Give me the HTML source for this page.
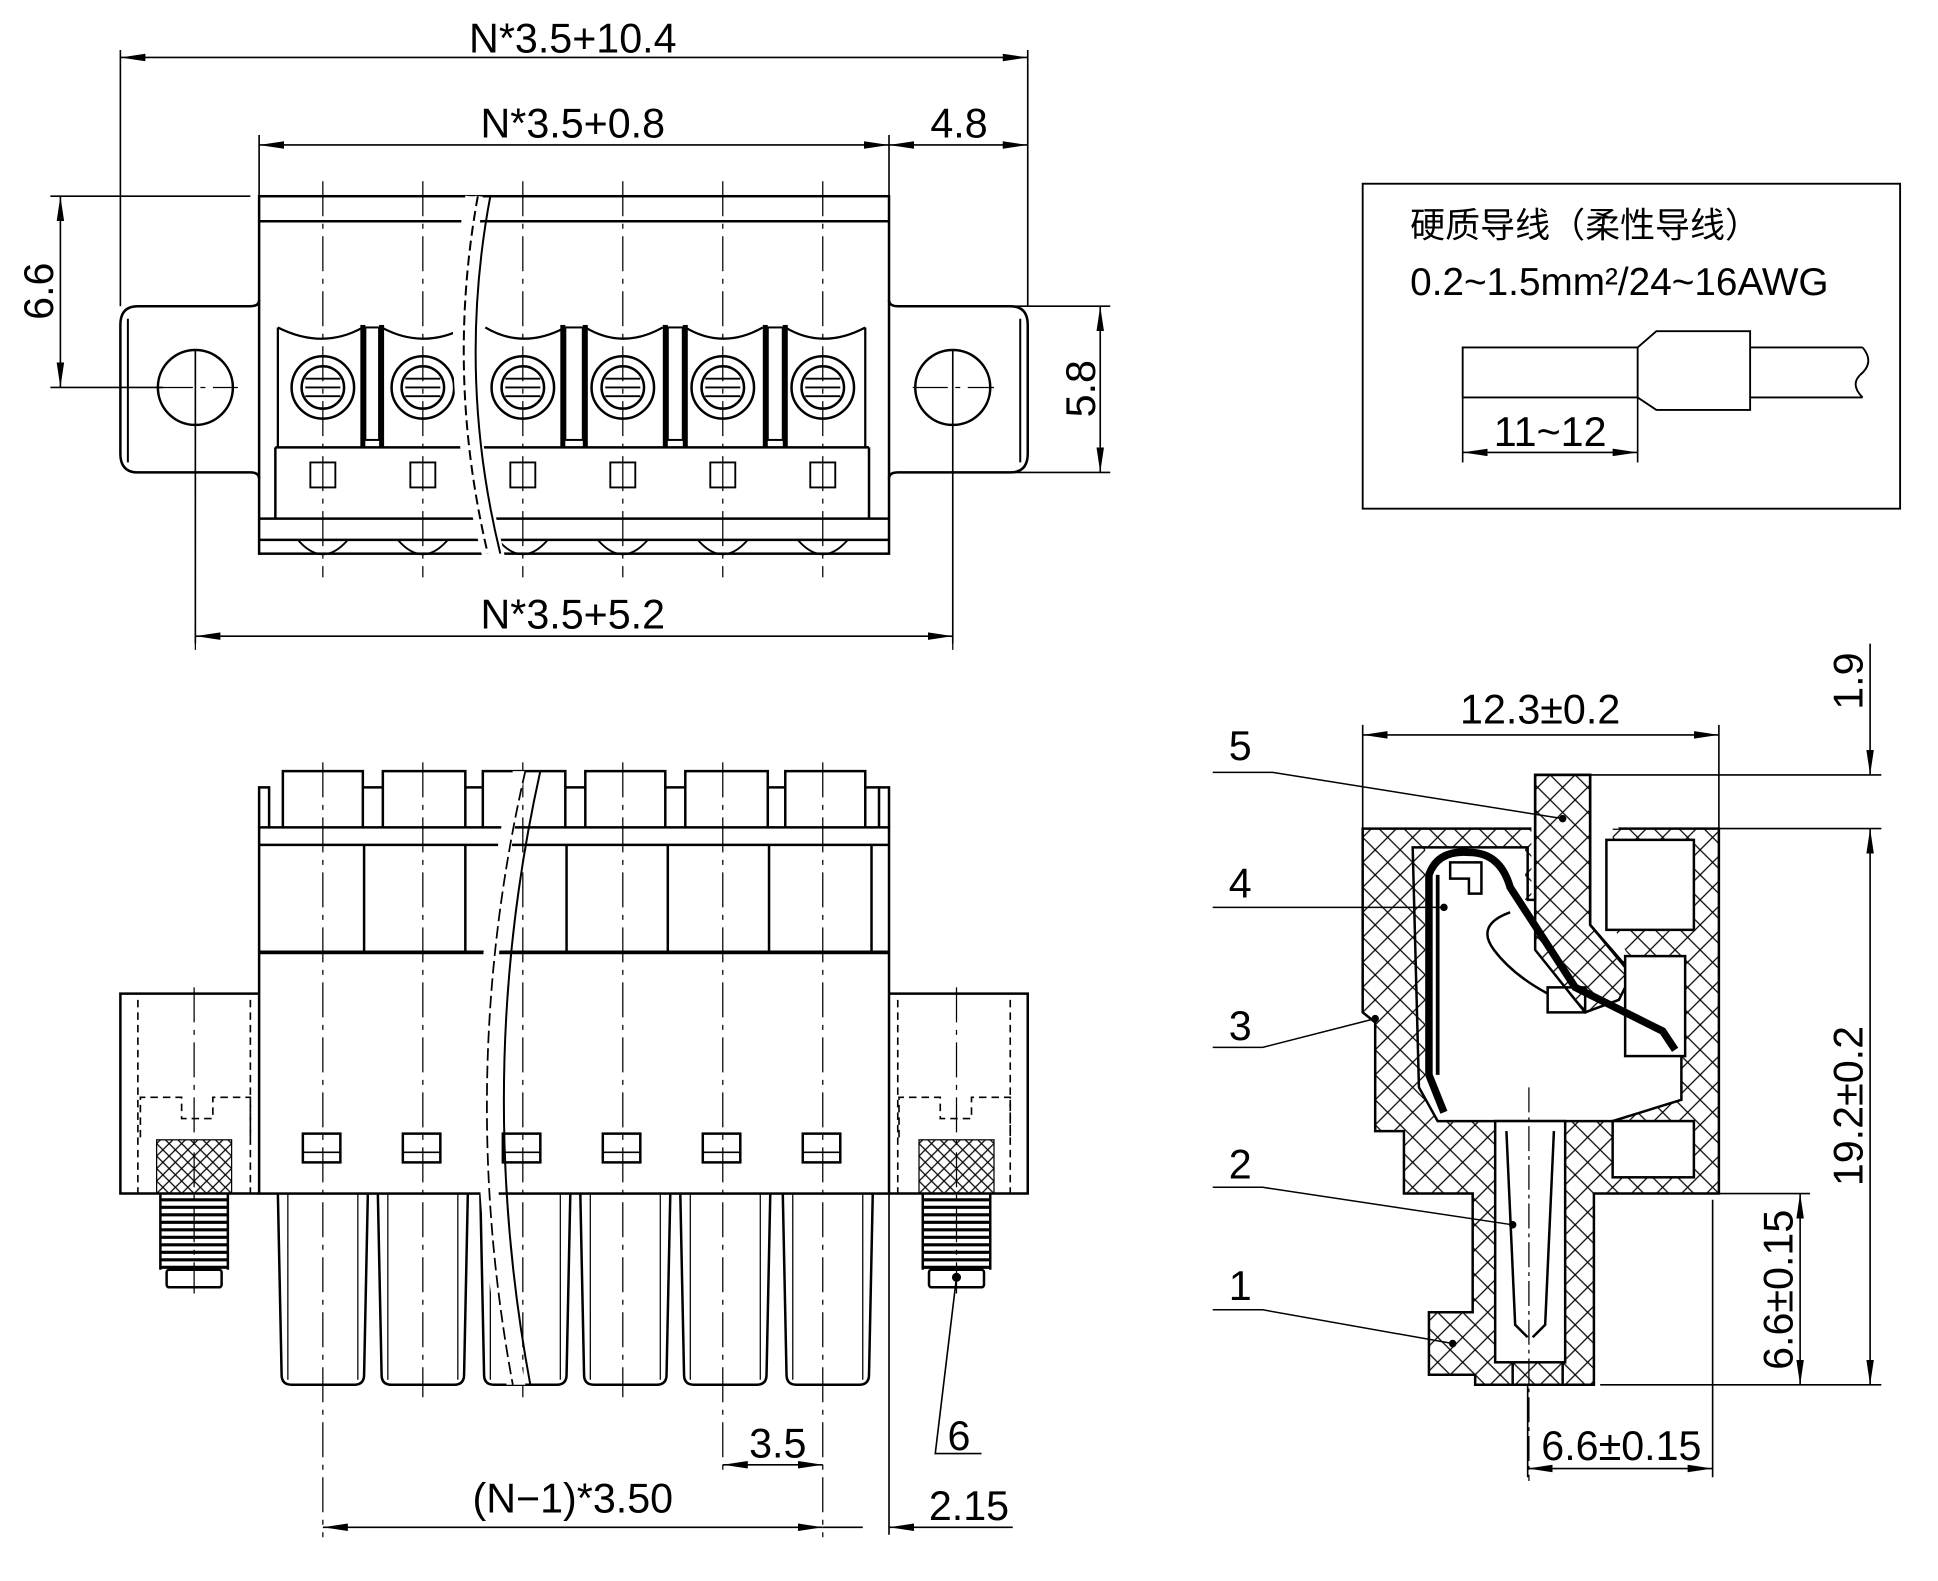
<!DOCTYPE html>
<html><head><meta charset="utf-8"><style>html,body{margin:0;padding:0;background:#fff}svg{display:block}</style></head>
<body>
<svg width="1938" height="1581" viewBox="0 0 1550 1265" xmlns="http://www.w3.org/2000/svg" font-family="Liberation Sans, sans-serif">
<defs>
<marker id="a" viewBox="0 0 20 8" refX="20" refY="4" markerWidth="20" markerHeight="8" markerUnits="userSpaceOnUse" orient="auto-start-reverse"><path d="M0,1 L20,4 L0,7 Z" fill="#000"/></marker>
<pattern id="h" width="20" height="20" patternUnits="userSpaceOnUse"><path d="M0,0L20,20M20,0L0,20" stroke="#000" stroke-width="1"/></pattern>
<pattern id="h2" width="10" height="10" patternUnits="userSpaceOnUse"><path d="M0,0L10,10M10,0L0,10" stroke="#000" stroke-width="1"/></pattern>
</defs>
<g stroke="#000" fill="none" stroke-width="1.3">
<!-- TOP VIEW dims -->
<line x1="96" y1="40" x2="96" y2="245"/><line x1="822" y1="40" x2="822" y2="245"/>
<line x1="96" y1="46" x2="822" y2="46" marker-start="url(#a)" marker-end="url(#a)"/>
<line x1="207" y1="108" x2="207" y2="157"/><line x1="711" y1="108" x2="711" y2="157"/>
<line x1="207" y1="116" x2="711" y2="116" marker-start="url(#a)" marker-end="url(#a)"/>
<line x1="711" y1="116" x2="822" y2="116" marker-start="url(#a)" marker-end="url(#a)"/>
<line x1="40" y1="157" x2="200" y2="157"/><line x1="40" y1="310" x2="130" y2="310"/>
<line x1="48" y1="157" x2="48" y2="310" marker-start="url(#a)" marker-end="url(#a)"/>
<line x1="790" y1="245" x2="888" y2="245"/><line x1="790" y1="378" x2="888" y2="378"/>
<line x1="880" y1="245" x2="880" y2="378" marker-start="url(#a)" marker-end="url(#a)"/>
<line x1="156" y1="280" x2="156" y2="515"/><line x1="762" y1="280" x2="762" y2="515"/>
<line x1="156" y1="509" x2="762" y2="509" marker-start="url(#a)" marker-end="url(#a)"/>
<!-- top body -->
<g stroke-width="2">
<rect x="207" y="157" width="504" height="286"/>
<line x1="207" y1="177" x2="711" y2="177"/>
<path d="M207,240 Q207,245 200,245 L110,245 Q96,245 96,260 L96,363 Q96,378 110,378 L200,378 Q207,378 207,383"/>
<path d="M711,240 Q711,245 718,245 L808,245 Q822,245 822,260 L822,363 Q822,378 808,378 L718,378 Q711,378 711,383"/>
<circle cx="156" cy="310" r="30"/><circle cx="762" cy="310" r="30"/>
<line x1="220" y1="358" x2="695" y2="358"/>
<line x1="207" y1="415" x2="711" y2="415"/>
<line x1="220" y1="358" x2="220" y2="415"/><line x1="695" y1="358" x2="695" y2="415"/>
<line x1="207" y1="432" x2="711" y2="432"/>
</g>
<g stroke-width="1.6">
<line x1="102" y1="255" x2="102" y2="370"/><line x1="816" y1="255" x2="816" y2="370"/>
</g>
<!-- terminals top -->
<g stroke-width="1.8">
<path d="M222,262 Q258,280 290,262 M305,262 Q338,280 372,262 M388,262 Q418,280 452,262 M468,262 Q498,280 530,262 M548,262 Q578,280 610,262 M628,262 Q658,280 692,262"/>
<line x1="222" y1="262" x2="222" y2="358"/><line x1="692" y1="262" x2="692" y2="358"/>
</g>
<g fill="#000" stroke="none">
<rect x="288" y="260" width="4" height="98"/><rect x="303" y="260" width="4" height="98"/>
<rect x="448" y="260" width="4" height="98"/><rect x="466" y="260" width="4" height="98"/>
<rect x="530" y="260" width="4" height="98"/><rect x="546" y="260" width="4" height="98"/>
<rect x="610" y="260" width="4" height="98"/><rect x="626" y="260" width="4" height="98"/>
</g>
<g stroke-width="1.6">
<rect x="292" y="262" width="11" height="90"/><rect x="452" y="262" width="14" height="90"/><rect x="534" y="262" width="12" height="90"/><rect x="614" y="262" width="12" height="90"/>
</g>
<g stroke-width="2">
<circle cx="258" cy="310" r="25"/><circle cx="258" cy="310" r="17"/>
<circle cx="338" cy="310" r="25"/><circle cx="338" cy="310" r="17"/>
<circle cx="418" cy="310" r="25"/><circle cx="418" cy="310" r="17"/>
<circle cx="498" cy="310" r="25"/><circle cx="498" cy="310" r="17"/>
<circle cx="578" cy="310" r="25"/><circle cx="578" cy="310" r="17"/>
<circle cx="658" cy="310" r="25"/><circle cx="658" cy="310" r="17"/>
</g>
<g stroke-width="1.5">
<path d="M244,303h28M244,310h28M244,317h28M324,303h28M324,310h28M324,317h28M404,303h28M404,310h28M404,317h28M484,303h28M484,310h28M484,317h28M564,303h28M564,310h28M564,317h28M644,303h28M644,310h28M644,317h28"/>
<path d="M248,370h20v20h-20zM328,370h20v20h-20zM408,370h20v20h-20zM488,370h20v20h-20zM568,370h20v20h-20zM648,370h20v20h-20z"/>
<path d="M238,432 Q258,455 278,432M318,432 Q338,455 358,432M398,432 Q418,455 438,432M478,432 Q498,455 518,432M558,432 Q578,455 598,432M638,432 Q658,455 678,432"/>
</g>
<g stroke-dasharray="28,6,4,6" stroke-width="1">
<path d="M258,145V462M338,145V462M418,145V462M498,145V462M578,145V462M658,145V462"/>
<path d="M156,280V520M762,280V520M126,310H190M730,310H795"/>
</g>
<!-- break top -->
<path d="M383,157 Q365,300 400,443 L388,443 Q350,300 375,157" fill="#fff" stroke="#fff" stroke-width="6"/>
<path d="M392,157 Q365,300 400,443" stroke-width="1.6"/>
<path d="M382,157 Q356,300 390,443" stroke-width="1.6" stroke-dasharray="8,4"/>

<!-- FRONT VIEW -->
<g stroke-width="2">
<path d="M207,662 V630 H215 V662 M703,662 V630 H711 V662"/>
<path d="M226,662V617H290V662M306,662V617H372V662M386,662V617H452V662M468,662V617H532V662M548,662V617H614V662M628,662V617H692V662"/>
<path d="M290,630h16M372,630h14M452,630h16M532,630h16M614,630h14M692,630h11"/>
<rect x="207" y="662" width="504" height="293"/>
<line x1="207" y1="676" x2="711" y2="676"/>
<line x1="207" y1="762" x2="711" y2="762" stroke-width="3"/>
<path d="M291,676V762M372,676V762M453,676V762M534,676V762M615,676V762M697,676V762"/>
<path d="M207,795H96V955H207M711,795H822V955H711"/>
<path d="M242,907h30v23h-30zM322,907h30v23h-30zM402,907h30v23h-30zM482,907h30v23h-30zM562,907h30v23h-30zM642,907h30v23h-30z"/>
<path d="M242,922h30M322,922h30M402,922h30M482,922h30M562,922h30M642,922h30" stroke-width="1.3"/>
<path d="M222,955 L225,1100 Q225,1108 233,1108 L283,1108 Q291,1108 291,1100 L294,955"/>
<path d="M302,955 L305,1100 Q305,1108 313,1108 L363,1108 Q371,1108 371,1100 L374,955"/>
<path d="M384,955 L387,1100 Q387,1108 395,1108 L445,1108 Q453,1108 453,1100 L456,955"/>
<path d="M464,955 L467,1100 Q467,1108 475,1108 L525,1108 Q533,1108 533,1100 L536,955"/>
<path d="M544,955 L547,1100 Q547,1108 555,1108 L605,1108 Q613,1108 613,1100 L616,955"/>
<path d="M626,955 L629,1100 Q629,1108 637,1108 L687,1108 Q695,1108 695,1100 L698,955"/>
</g>
<path d="M230,955V1104M286,955V1104M310,955V1104M366,955V1104M392,955V1104M448,955V1104M472,955V1104M528,955V1104M552,955V1104M608,955V1104M634,955V1104M690,955V1104" stroke-width="1"/>
<!-- screws -->
<g stroke-dasharray="6,4" stroke-width="1.3">
<path d="M110,800V955M200,800V955M718,800V955M808,800V955"/>
<path d="M112,910V878H145V895H170V878H200V910M719,910V878H752V895H777V878H808V910"/>
</g>
<rect x="125" y="912" width="60" height="43" fill="url(#h2)" stroke-width="1"/>
<rect x="735" y="912" width="60" height="43" fill="url(#h2)" stroke-width="1"/>
<g stroke-width="2.5">
<path d="M128,960H182M128,966H182M128,972H182M128,978H182M128,984H182M128,990H182M128,996H182M128,1002H182M128,1008H182M128,1014H182"/>
<path d="M738,960H792M738,966H792M738,972H792M738,978H792M738,984H792M738,990H792M738,996H792M738,1002H792M738,1008H792M738,1014H792"/>
<path d="M128,955V1016M182,955V1016M738,955V1016M792,955V1016" stroke-width="2"/>
<rect x="133" y="1016" width="44" height="14" rx="2" stroke-width="2"/>
<rect x="743" y="1016" width="44" height="14" rx="2" stroke-width="2"/>
</g>
<g stroke-dasharray="28,6,4,6" stroke-width="1">
<path d="M258,610V1230M338,610V1118M418,610V1118M498,610V1118M578,610V1180M658,610V1230M155,790V1035M765,790V1035"/>
</g>
<!-- break front -->
<path d="M420,617 Q370,860 420,1108 L405,1108 Q355,860 410,617Z" fill="#fff" stroke="none"/>
<path d="M432,617 Q378,860 424,1108" stroke-width="1.6"/>
<path d="M420,617 Q364,860 410,1108" stroke-width="1.4" stroke-dasharray="10,4"/>
<!-- front dims -->
<line x1="711" y1="955" x2="711" y2="1228"/>
<line x1="578" y1="1172" x2="658" y2="1172" marker-start="url(#a)" marker-end="url(#a)"/>
<line x1="258" y1="1222" x2="658" y2="1222" marker-start="url(#a)" marker-end="url(#a)"/>
<line x1="711" y1="1222" x2="810" y2="1222" marker-start="url(#a)"/>
<line x1="658" y1="1222" x2="690" y2="1222"/>
<path d="M765,1022 L748,1163 H785"/>
<circle cx="765" cy="1022" r="3" fill="#000"/>

<!-- BOX -->
<rect x="1090" y="147" width="430" height="260" stroke-width="1.5"/>
<g stroke-width="1.5">
<rect x="1170" y="278" width="140" height="40"/>
<path d="M1310,278 L1325,265 H1400 V328 H1325 L1310,318"/>
<path d="M1400,278 H1490 M1400,318 H1490"/>
<path d="M1490,278 Q1500,290 1488,300 Q1480,308 1490,318"/>
</g>
<line x1="1170" y1="318" x2="1170" y2="370"/><line x1="1310" y1="318" x2="1310" y2="370"/>
<line x1="1170" y1="362" x2="1310" y2="362" marker-start="url(#a)" marker-end="url(#a)"/>

<!-- SIDE VIEW -->
<g stroke-width="2">
<path d="M1090,663 L1375,663 L1375,955 L1275,955 L1275,1108 L1180,1108 L1180,1100 L1143,1100 L1143,1050 L1178,1050 L1178,955 L1123,955 L1123,905 L1100,905 L1100,818 L1090,810 Z" fill="url(#h)"/>
<path d="M1225,620 L1270,620 L1295,663 L1290,663 L1290,740 L1305,770 L1345,770 L1345,880 L1290,897 L1150,897 L1140,880 L1140,678 L1220,678 L1220,720 L1225,720 Z" fill="#fff" stroke="none"/>
<path d="M1130,678 L1222,678 L1222,720 L1228,720 L1228,620 L1272,620 L1272,740 L1298,770 L1345,770 L1345,880 L1290,897 L1150,897 L1135,870 Z" fill="none"/>
<path d="M1228,620 L1272,620 L1272,740 L1305,780 L1295,800 L1268,810 L1228,760 Z" fill="url(#h)"/>
<rect x="1285" y="672" width="70" height="72" fill="#fff"/>
<rect x="1300" y="765" width="48" height="80" fill="#fff"/>
<rect x="1196" y="897" width="56" height="193" fill="#fff"/>
<rect x="1290" y="897" width="65" height="45" fill="#fff"/>
<path d="M1210,1090V1108H1250V1090"/>
<path d="M1205,905 L1212,1060 L1222,1070 M1243,905 L1236,1060 L1226,1070"/>
<path d="M1238,790 h30 v20 h-30z M1160,690 h25 v25 h-10 v-12 h-15z"/>
<path d="M1208,730 Q1180,740 1195,760 Q1210,780 1238,795"/>
</g>
<path d="M1155,890 L1143,860 L1143,700 Q1150,680 1175,682 Q1200,682 1208,710 L1260,790 L1330,825 L1340,840" stroke-width="6"/>
<path d="M1150,700 L1150,860" stroke-width="3"/>
<line x1="1223" y1="870" x2="1223" y2="1185" stroke-dasharray="20,4,3,4" stroke-width="1"/>
<g fill="#000" stroke="none">
<circle cx="1250" cy="655" r="3"/><circle cx="1155" cy="726" r="3"/><circle cx="1100" cy="815" r="3"/><circle cx="1210" cy="980" r="3"/><circle cx="1162" cy="1075" r="3"/>
</g>
<path d="M970,618 H1018 L1250,655 M970,726 H1155 M970,838 H1010 L1100,815 M970,950 H1010 L1210,980 M970,1048 H1010 L1162,1075" stroke-width="1.2"/>
<!-- side dims -->
<line x1="1090" y1="580" x2="1090" y2="663"/><line x1="1375" y1="580" x2="1375" y2="663"/>
<line x1="1090" y1="588" x2="1375" y2="588" marker-start="url(#a)" marker-end="url(#a)"/>
<line x1="1272" y1="620" x2="1505" y2="620"/><line x1="1375" y1="663" x2="1505" y2="663"/>
<line x1="1496" y1="515" x2="1496" y2="620" marker-end="url(#a)"/>
<line x1="1496" y1="663" x2="1496" y2="1108" marker-start="url(#a)" marker-end="url(#a)"/>
<line x1="1280" y1="1108" x2="1505" y2="1108"/><line x1="1375" y1="955" x2="1448" y2="955"/>
<line x1="1440" y1="955" x2="1440" y2="1108" marker-start="url(#a)" marker-end="url(#a)"/>
<line x1="1222" y1="1108" x2="1222" y2="1182"/><line x1="1370" y1="960" x2="1370" y2="1182"/>
<line x1="1222" y1="1175" x2="1370" y2="1175" marker-start="url(#a)" marker-end="url(#a)"/>
</g>
<g font-size="33" fill="#000" text-anchor="middle">
<text x="458" y="42">N*3.5+10.4</text>
<text x="458" y="110">N*3.5+0.8</text>
<text x="767" y="110">4.8</text>
<text x="458" y="503">N*3.5+5.2</text>
<text transform="translate(42,233) rotate(-90)">6.6</text>
<text transform="translate(876,311) rotate(-90)">5.8</text>
<text x="622" y="1166">3.5</text>
<text x="458" y="1210">(N−1)*3.50</text>
<text x="775" y="1216">2.15</text>
<text x="767" y="1160">6</text>
<text x="1232" y="579">12.3±0.2</text>
<text transform="translate(1490,545) rotate(-90)">1.9</text>
<text transform="translate(1490,885) rotate(-90)">19.2±0.2</text>
<text transform="translate(1434,1032) rotate(-90)">6.6±0.15</text>
<text x="1297" y="1168">6.6±0.15</text>
<text x="1240" y="357">11~12</text>
<text x="992" y="608">5</text><text x="992" y="718">4</text><text x="992" y="832">3</text><text x="992" y="943">2</text><text x="992" y="1040">1</text>
</g>
<g font-size="28" fill="#000" font-family="Liberation Sans, Noto Sans CJK SC, sans-serif">
<text x="1128" y="190">硬质导线（柔性导线）</text>
<text x="1128" y="236" font-size="31">0.2~1.5mm²/24~16AWG</text>
</g>
</svg>
</body></html>
